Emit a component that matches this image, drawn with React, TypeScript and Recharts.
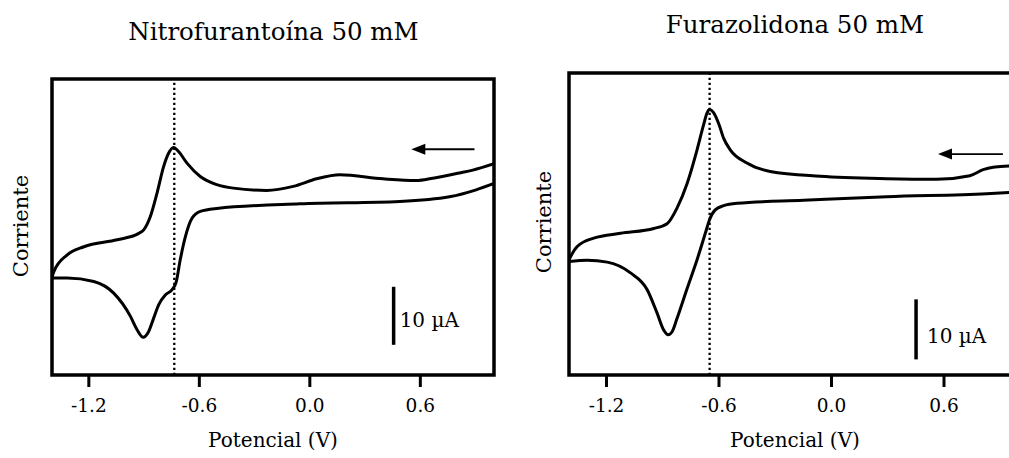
import { LineChart, Line, XAxis, YAxis, ReferenceLine, ReferenceArea } from 'recharts';

const FONT = "'DejaVu Serif', serif";

const xTicks = [-1.2, -0.6, 0, 0.6];

// Nitrofurantoína: rama superior (barrido hacia potenciales negativos) e inferior (retorno)
const nitroUpper = [
  { x: -1.4, y: 16.9 }, { x: -1.39, y: 17.8 }, { x: -1.317, y: 20.7 }, { x: -1.227, y: 22.1 },
  { x: -1.046, y: 23.3 }, { x: -0.929, y: 24.4 }, { x: -0.902, y: 25.0 }, { x: -0.866, y: 27.3 },
  { x: -0.83, y: 31.3 }, { x: -0.794, y: 35.9 }, { x: -0.767, y: 38.2 }, { x: -0.74, y: 39.2 },
  { x: -0.713, y: 38.5 }, { x: -0.667, y: 36.5 }, { x: -0.595, y: 34.2 }, { x: -0.505, y: 32.8 },
  { x: -0.415, y: 32.2 }, { x: -0.234, y: 31.8 }, { x: -0.09, y: 32.5 }, { x: 0.037, y: 33.8 },
  { x: 0.163, y: 34.5 }, { x: 0.397, y: 33.8 }, { x: 0.578, y: 33.5 }, { x: 0.668, y: 33.9 },
  { x: 0.812, y: 34.8 }, { x: 0.885, y: 35.3 }, { x: 1.0, y: 36.4 },
];
const nitroLower = [
  { x: -1.4, y: 16.7 }, { x: -1.317, y: 16.7 }, { x: -1.173, y: 16.1 }, { x: -1.065, y: 14.1 },
  { x: -0.974, y: 10.1 }, { x: -0.938, y: 7.8 }, { x: -0.905, y: 6.5 }, { x: -0.875, y: 7.5 },
  { x: -0.848, y: 9.8 }, { x: -0.821, y: 12.1 }, { x: -0.785, y: 13.8 }, { x: -0.748, y: 14.7 },
  { x: -0.725, y: 16.1 }, { x: -0.704, y: 19.8 }, { x: -0.676, y: 23.8 }, { x: -0.64, y: 27.0 },
  { x: -0.595, y: 28.2 }, { x: -0.505, y: 28.7 }, { x: -0.054, y: 29.5 }, { x: 0.488, y: 29.9 },
  { x: 0.758, y: 30.7 }, { x: 0.903, y: 31.9 }, { x: 1.0, y: 33.0 },
];

// Furazolidona
const furaUpper = [
  { x: -1.4, y: 19.2 }, { x: -1.392, y: 19.7 }, { x: -1.356, y: 21.4 }, { x: -1.268, y: 22.8 },
  { x: -1.125, y: 23.6 }, { x: -0.948, y: 24.4 }, { x: -0.877, y: 25.2 }, { x: -0.824, y: 27.8 },
  { x: -0.77, y: 31.9 }, { x: -0.717, y: 37.5 }, { x: -0.682, y: 41.7 }, { x: -0.664, y: 43.6 },
  { x: -0.65, y: 44.2 }, { x: -0.629, y: 43.7 }, { x: -0.602, y: 41.9 }, { x: -0.575, y: 39.4 },
  { x: -0.54, y: 37.5 }, { x: -0.451, y: 35.3 }, { x: -0.327, y: 33.9 }, { x: -0.06, y: 33.1 },
  { x: 0.295, y: 32.7 }, { x: 0.561, y: 32.6 }, { x: 0.738, y: 33.2 }, { x: 0.809, y: 34.2 },
  { x: 0.862, y: 34.6 }, { x: 0.946, y: 34.8 }, { x: 1.0, y: 34.9 },
];
const furaLower = [
  { x: -1.4, y: 18.9 }, { x: -1.303, y: 19.1 }, { x: -1.196, y: 18.8 }, { x: -1.072, y: 17.0 },
  { x: -0.983, y: 14.2 }, { x: -0.93, y: 10.3 }, { x: -0.895, y: 7.5 }, { x: -0.871, y: 6.7 },
  { x: -0.85, y: 7.2 }, { x: -0.824, y: 9.4 }, { x: -0.77, y: 14.4 }, { x: -0.717, y: 19.2 },
  { x: -0.673, y: 23.6 }, { x: -0.65, y: 25.9 }, { x: -0.62, y: 27.5 }, { x: -0.575, y: 28.2 },
  { x: -0.504, y: 28.6 }, { x: -0.149, y: 29.1 }, { x: 0.295, y: 29.7 }, { x: 0.827, y: 30.2 },
  { x: 0.946, y: 30.4 }, { x: 1.0, y: 30.5 },
];

type Pt = { x: number; y: number };

type PanelProps = {
  left: number;
  margin: { top: number; right: number; bottom: number; left: number };
  yMax: number;
  upper: Pt[];
  lower: Pt[];
  peakX: number;
  barX: number;
  barY: number;
  barDx: number;
  barDy: number;
  arrowFrom: number;
  arrowTo: number;
  arrowY: number;
};

function Panel(p: PanelProps) {
  return (
    <div style={{ position: 'absolute', left: p.left, top: 0 }}>
      <LineChart width={520} height={458} margin={p.margin}>
        <XAxis
          type="number"
          dataKey="x"
          domain={[-1.4, 1.0]}
          ticks={xTicks}
          tickFormatter={(v: number) => v.toFixed(1)}
          axisLine={false}
          tickLine={{ stroke: '#000', strokeWidth: 3 }}
          tickSize={12}
          tickMargin={12}
          height={80}
          tick={{ fill: '#000', fontSize: 18.5, fontFamily: FONT }}
          allowDataOverflow
        />
        <YAxis type="number" hide domain={[0, p.yMax]} allowDataOverflow />
        <ReferenceArea x1={-1.4} x2={1.0} y1={0} y2={p.yMax} fill="#fff" fillOpacity={0} stroke="#000" strokeWidth={3.5} />
        <ReferenceLine x={p.peakX} stroke="#000" strokeWidth={2.3} strokeDasharray="2.2 2.8" />
        <Line data={p.upper} dataKey="y" type="monotone" stroke="#000" strokeWidth={3} dot={false} isAnimationActive={false} />
        <Line data={p.lower} dataKey="y" type="monotone" stroke="#000" strokeWidth={3} dot={false} isAnimationActive={false} />
        <ReferenceLine
          segment={[{ x: p.barX, y: p.barY }, { x: p.barX, y: p.barY + 10 }]}
          shape={(s: any) => (
            <g>
              <line x1={s.x1} y1={s.y1} x2={s.x2} y2={s.y2} stroke="#000" strokeWidth={3.5} />
              <text x={s.x1 + p.barDx} y={(s.y1 + s.y2) / 2 + p.barDy} fontSize={20} fontFamily={FONT} fill="#000">
                10 µA
              </text>
            </g>
          )}
        />
        <ReferenceLine
          segment={[{ x: p.arrowFrom, y: p.arrowY }, { x: p.arrowTo, y: p.arrowY }]}
          shape={(s: any) => (
            <g>
              <line x1={s.x1} y1={s.y1} x2={s.x2 + 8} y2={s.y2} stroke="#000" strokeWidth={1.8} />
              <polygon points={`${s.x2},${s.y2} ${s.x2 + 14},${s.y2 - 5.5} ${s.x2 + 14},${s.y2 + 5.5}`} fill="#000" />
            </g>
          )}
        />
      </LineChart>
    </div>
  );
}

export default function App() {
  return (
    <div style={{ position: 'fixed', left: 0, top: 0, width: 1009, height: 458, overflow: 'hidden', background: '#fff' }}>
      <Panel
        left={0}
        margin={{ top: 79, right: 26, bottom: 3, left: 52 }}
        yMax={51}
        upper={nitroUpper}
        lower={nitroLower}
        peakX={-0.736}
        barX={0.455}
        barY={5.2}
        barDx={6}
        barDy={11}
        arrowFrom={0.894}
        arrowTo={0.551}
        arrowY={38.9}
      />
      <Panel
        left={520}
        margin={{ top: 73, right: 21, bottom: 3, left: 49 }}
        yMax={50.3}
        upper={furaUpper}
        lower={furaLower}
        peakX={-0.65}
        barX={0.451}
        barY={2.6}
        barDx={11}
        barDy={14}
        arrowFrom={0.914}
        arrowTo={0.568}
        arrowY={36.8}
      />
      <svg width={1009} height={458} style={{ position: 'absolute', left: 0, top: 0, pointerEvents: 'none' }}>
        <g fontFamily={FONT} fill="#000">
          <text x={273.5} y={40} fontSize={24.5} textAnchor="middle">Nitrofurantoína 50 mM</text>
          <text x={795} y={33} fontSize={24.5} textAnchor="middle">Furazolidona 50 mM</text>
          <text x={273} y={447} fontSize={20} textAnchor="middle">Potencial (V)</text>
          <text x={795} y={447} fontSize={20} textAnchor="middle">Potencial (V)</text>
          <text transform="translate(28 226) rotate(-90)" fontSize={21} textAnchor="middle">Corriente</text>
          <text transform="translate(551 222) rotate(-90)" fontSize={21} textAnchor="middle">Corriente</text>
        </g>
      </svg>
    </div>
  );
}
